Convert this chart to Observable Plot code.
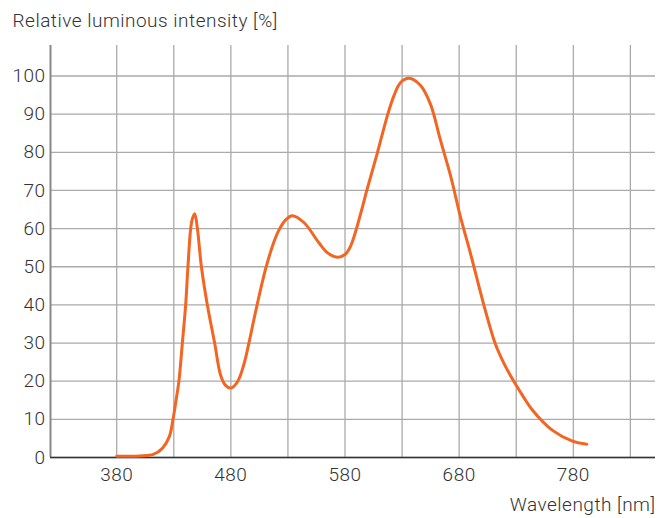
<!DOCTYPE html>
<html>
<head>
<meta charset="utf-8">
<script src="https://cdn.jsdelivr.net/npm/d3@7"></script>
<script src="https://cdn.jsdelivr.net/npm/@observablehq/plot@0.6"></script>
<style>
  html, body { margin: 0; padding: 0; background: #fff; }
</style>
</head>
<body>
<div id="chart"></div>
<script>
// ---- Data ----
const wavelengths = [380, 400, 412, 420, 426, 429.3, 432, 434.6, 437.5, 440.4, 442.4, 444.8, 446.3, 448.3, 450.7, 454.2, 459.4, 465.8, 471.1, 475.4, 479.8, 485.7, 491.5, 495.8, 502.6, 510.5, 517.7, 522.1, 528, 533.8, 544, 557.1, 564.5, 573.3, 580, 585, 593.7, 598.9, 608.3, 617, 622.8, 628.7, 636, 646.2, 655, 663.3, 672.5, 681.2, 690, 701.7, 711.9, 720, 728, 736.7, 744.3, 761.8, 779.3, 791.8];
const intensity   = [0.3, 0.4, 0.8, 2.4, 5.4, 10, 15, 20.3, 30, 40, 50, 60, 62.6, 63.9, 60, 50, 40, 30, 21.5, 18.9, 18.2, 19.8, 24.5, 30, 39.5, 49.5, 56.5, 59.6, 62.3, 63.4, 61.6, 56.3, 53.7, 52.5, 53.2, 55.5, 63.9, 69.8, 79.8, 89.5, 94.8, 98.3, 99.4, 97.5, 92.5, 83.5, 73.8, 63, 53.4, 39.9, 29.6, 24.2, 19.9, 15.7, 12.4, 7.1, 4.3, 3.5];
const xTickLabels = [380, 480, 580, 680, 780];
const xGridLines  = [380, 430, 480, 530, 580, 630, 680, 730, 780, 830];
const yTickLabels = [0, 10, 20, 30, 40, 50, 60, 70, 80, 90, 100];
const yTitle = "Relative luminous intensity [%]";
const xTitle = "Wavelength [nm]";

const data = wavelengths.map((w, i) => ({wavelength: w, value: intensity[i]}));

const xMin = 322, xMax = 852, yMax = 108;

const chart = Plot.plot({
  width: 664,
  height: 518,
  marginLeft: 50,
  marginRight: 9,
  marginTop: 45,
  marginBottom: 61,
  x: {domain: [xMin, xMax]},
  y: {domain: [0, yMax]},
  style: {fontFamily: "Roboto, 'Liberation Sans', sans-serif", fontWeight: 300, fontSize: "19px", letterSpacing: "0.5px", color: "#333", background: "#fff"},
  marks: [
    Plot.ruleX(xGridLines, {y1: 0, y2: yMax, stroke: "#aaa", strokeWidth: 1.3}),
    Plot.ruleY(yTickLabels, {stroke: "#aaa", strokeWidth: 1.3}),
    Plot.ruleX([xMin], {y1: 0, y2: yMax, stroke: "#888", strokeWidth: 2}),
    Plot.ruleY([0], {stroke: "#333", strokeWidth: 1.6}),
    Plot.axisX(xTickLabels, {tickSize: 0, tickPadding: 9.5, fontSize: 19, label: null}),
    Plot.axisY(yTickLabels, {tickSize: 0, tickPadding: 5, fontSize: 19, label: null}),
    Plot.line(data, {x: "wavelength", y: "value", stroke: "#f26522", strokeWidth: 3, curve: "catmull-rom"}),
    Plot.text([yTitle], {frameAnchor: "top-left", dx: -38, dy: -24.4, textAnchor: "start", lineAnchor: "middle", fontSize: 19, fill: "#333"}),
    Plot.text([xTitle], {frameAnchor: "bottom-right", dx: 0, dy: 47, textAnchor: "end", lineAnchor: "middle", fontSize: 19, fill: "#333"})
  ]
});
document.getElementById("chart").appendChild(chart);
</script>
</body>
</html>
